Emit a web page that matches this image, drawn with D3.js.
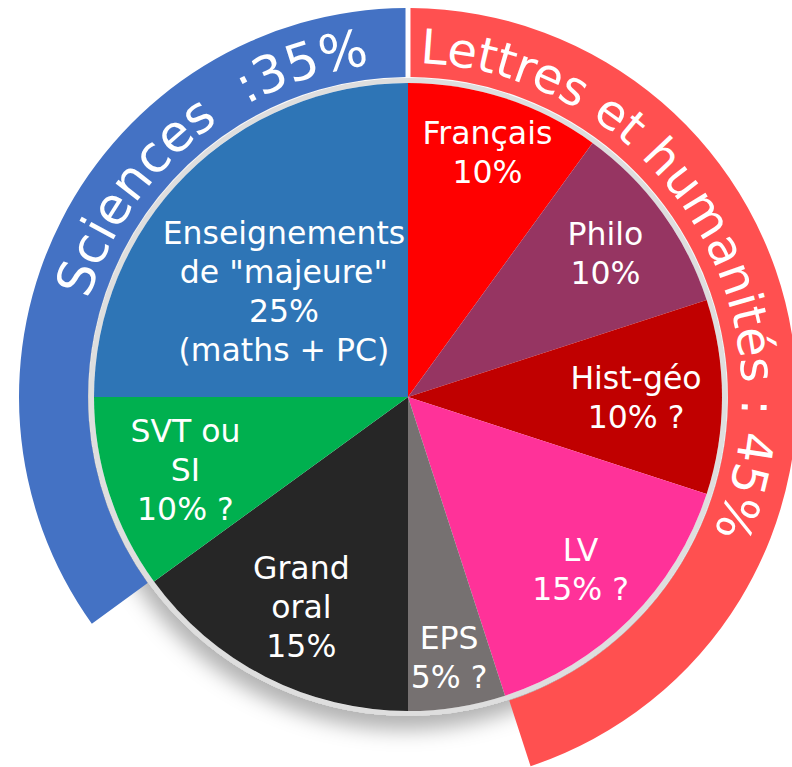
<!DOCTYPE html>
<html>
<head>
<meta charset="utf-8">
<script src="https://cdn.jsdelivr.net/npm/d3@7"></script>
<style>
  body { margin: 0; background: #fff; }
  text { font-family: "DejaVu Sans", Verdana, sans-serif; fill: #fff; }
</style>
</head>
<body>
<div id="chart"></div>
<script>
var svgWidth = 792;
var svgHeight = 767;

// slices, clockwise from 12 o'clock
var sliceNames = ["Français", "Philo", "Hist-géo", "LV", "EPS", "Grand oral", "SVT ou SI", "Enseignements de majeure"];
var sliceValues = [10, 10, 10, 15, 5, 15, 10, 25];
var sliceLabels = [
  ["Français", "10%"],
  ["Philo", "10%"],
  ["Hist-géo", "10% ?"],
  ["LV", "15% ?"],
  ["EPS", "5% ?"],
  ["Grand", "oral", "15%"],
  ["SVT ou", "SI", "10% ?"],
  ["Enseignements", "de \"majeure\"", "25%", "(maths + PC)"]
];
var sliceColors = ["#ff0000", "#963462", "#c00000", "#ff3399", "#767171", "#262626", "#00b050", "#2e75b6"];

// outer ring groups (the middle one is left empty)
var groupNames = ["Lettres et humanités : 45%", "", "Sciences  :35%"];
var groupValues = [45, 20, 35];
var groupColors = ["#ff5050", "none", "#4472c4"];

var cx = 408, cy = 397;
var pieR = 314;
var ringInner = 320, ringOuter = 389;
var textR = 334;

var svg = d3.select("#chart")
  .append("svg")
  .attr("width", svgWidth)
  .attr("height", svgHeight);

var defs = svg.append("defs");
var shadow = defs.append("filter")
  .attr("id", "shadow")
  .attr("x", "-20%").attr("y", "-20%")
  .attr("width", "140%").attr("height", "140%");
shadow.append("feDropShadow")
  .attr("dx", -4).attr("dy", 14)
  .attr("stdDeviation", 10)
  .attr("flood-color", "#000")
  .attr("flood-opacity", 0.3);

var chartGroup = svg.append("g")
  .attr("transform", `translate(${cx}, ${cy})`);

var pie = d3.pie().sort(null).value(d => d);

// inner pie
var arcs = pie(sliceValues);
var arc = d3.arc().innerRadius(0).outerRadius(pieR);

var pieGroup = chartGroup.append("g").attr("filter", "url(#shadow)");

pieGroup.append("circle")
  .attr("r", pieR + 2.5)
  .attr("fill", "#fff")
  .attr("stroke", "#dedede")
  .attr("stroke-width", 5);

pieGroup.selectAll("path")
  .data(arcs)
  .enter()
  .append("path")
  .attr("d", arc)
  .attr("fill", (d, i) => sliceColors[i]);

// label radius per slice
var labelR = [257, 244, 228, 244, 263, 235, 234, 163];
var labelAngleShift = [0, 0, 0, 0, 0, 0, 0, -0.08];

var labels = chartGroup.selectAll(".slice-label")
  .data(arcs)
  .enter()
  .append("text")
  .attr("class", "slice-label")
  .attr("text-anchor", "middle")
  .attr("font-size", 31.5)
  .attr("transform", function(d, i) {
    var a = (d.startAngle + d.endAngle) / 2 + labelAngleShift[i];
    var x = Math.sin(a) * labelR[i];
    var y = -Math.cos(a) * labelR[i];
    return `translate(${x}, ${y})`;
  });

labels.each(function(d, i) {
  var lines = sliceLabels[i];
  var lh = 39;
  var top = -(lines.length - 1) * lh / 2;
  d3.select(this).selectAll("tspan")
    .data(lines)
    .enter()
    .append("tspan")
    .attr("x", 0)
    .attr("y", (t, j) => top + j * lh)
    .attr("dy", "0.36em")
    .text(t => t);
});

// outer ring
var ringArcs = pie(groupValues);
var ringArc = d3.arc()
  .innerRadius(ringInner)
  .outerRadius(ringOuter)
  .padAngle(0.014)
  .padRadius(355);

chartGroup.selectAll(".ring")
  .data(ringArcs.filter((d, i) => groupNames[i] !== ""))
  .enter()
  .append("path")
  .attr("class", "ring")
  .attr("d", ringArc)
  .attr("fill", d => groupColors[d.index]);

// curved labels on the ring (path coords are relative to the centre)
var textStart = [2, 0, 287];
var textSize = [48, 0, 51];
ringArcs.forEach(function(d, i) {
  if (groupNames[i] === "") return;
  var p = d3.path();
  var a0 = d.startAngle - Math.PI / 2;
  var a1 = d.endAngle - Math.PI / 2;
  p.arc(0, 0, textR, a0, a1);
  defs.append("path")
    .attr("id", "ringpath" + i)
    .attr("d", p.toString());
  var offset = (textStart[i] * Math.PI / 180 - d.startAngle) * textR;
  chartGroup.append("text")
    .attr("font-size", textSize[i])
    .append("textPath")
    .attr("href", "#ringpath" + i)
    .attr("startOffset", offset)
    .style("white-space", "pre")
    .text(groupNames[i]);
});
</script>
</body>
</html>
